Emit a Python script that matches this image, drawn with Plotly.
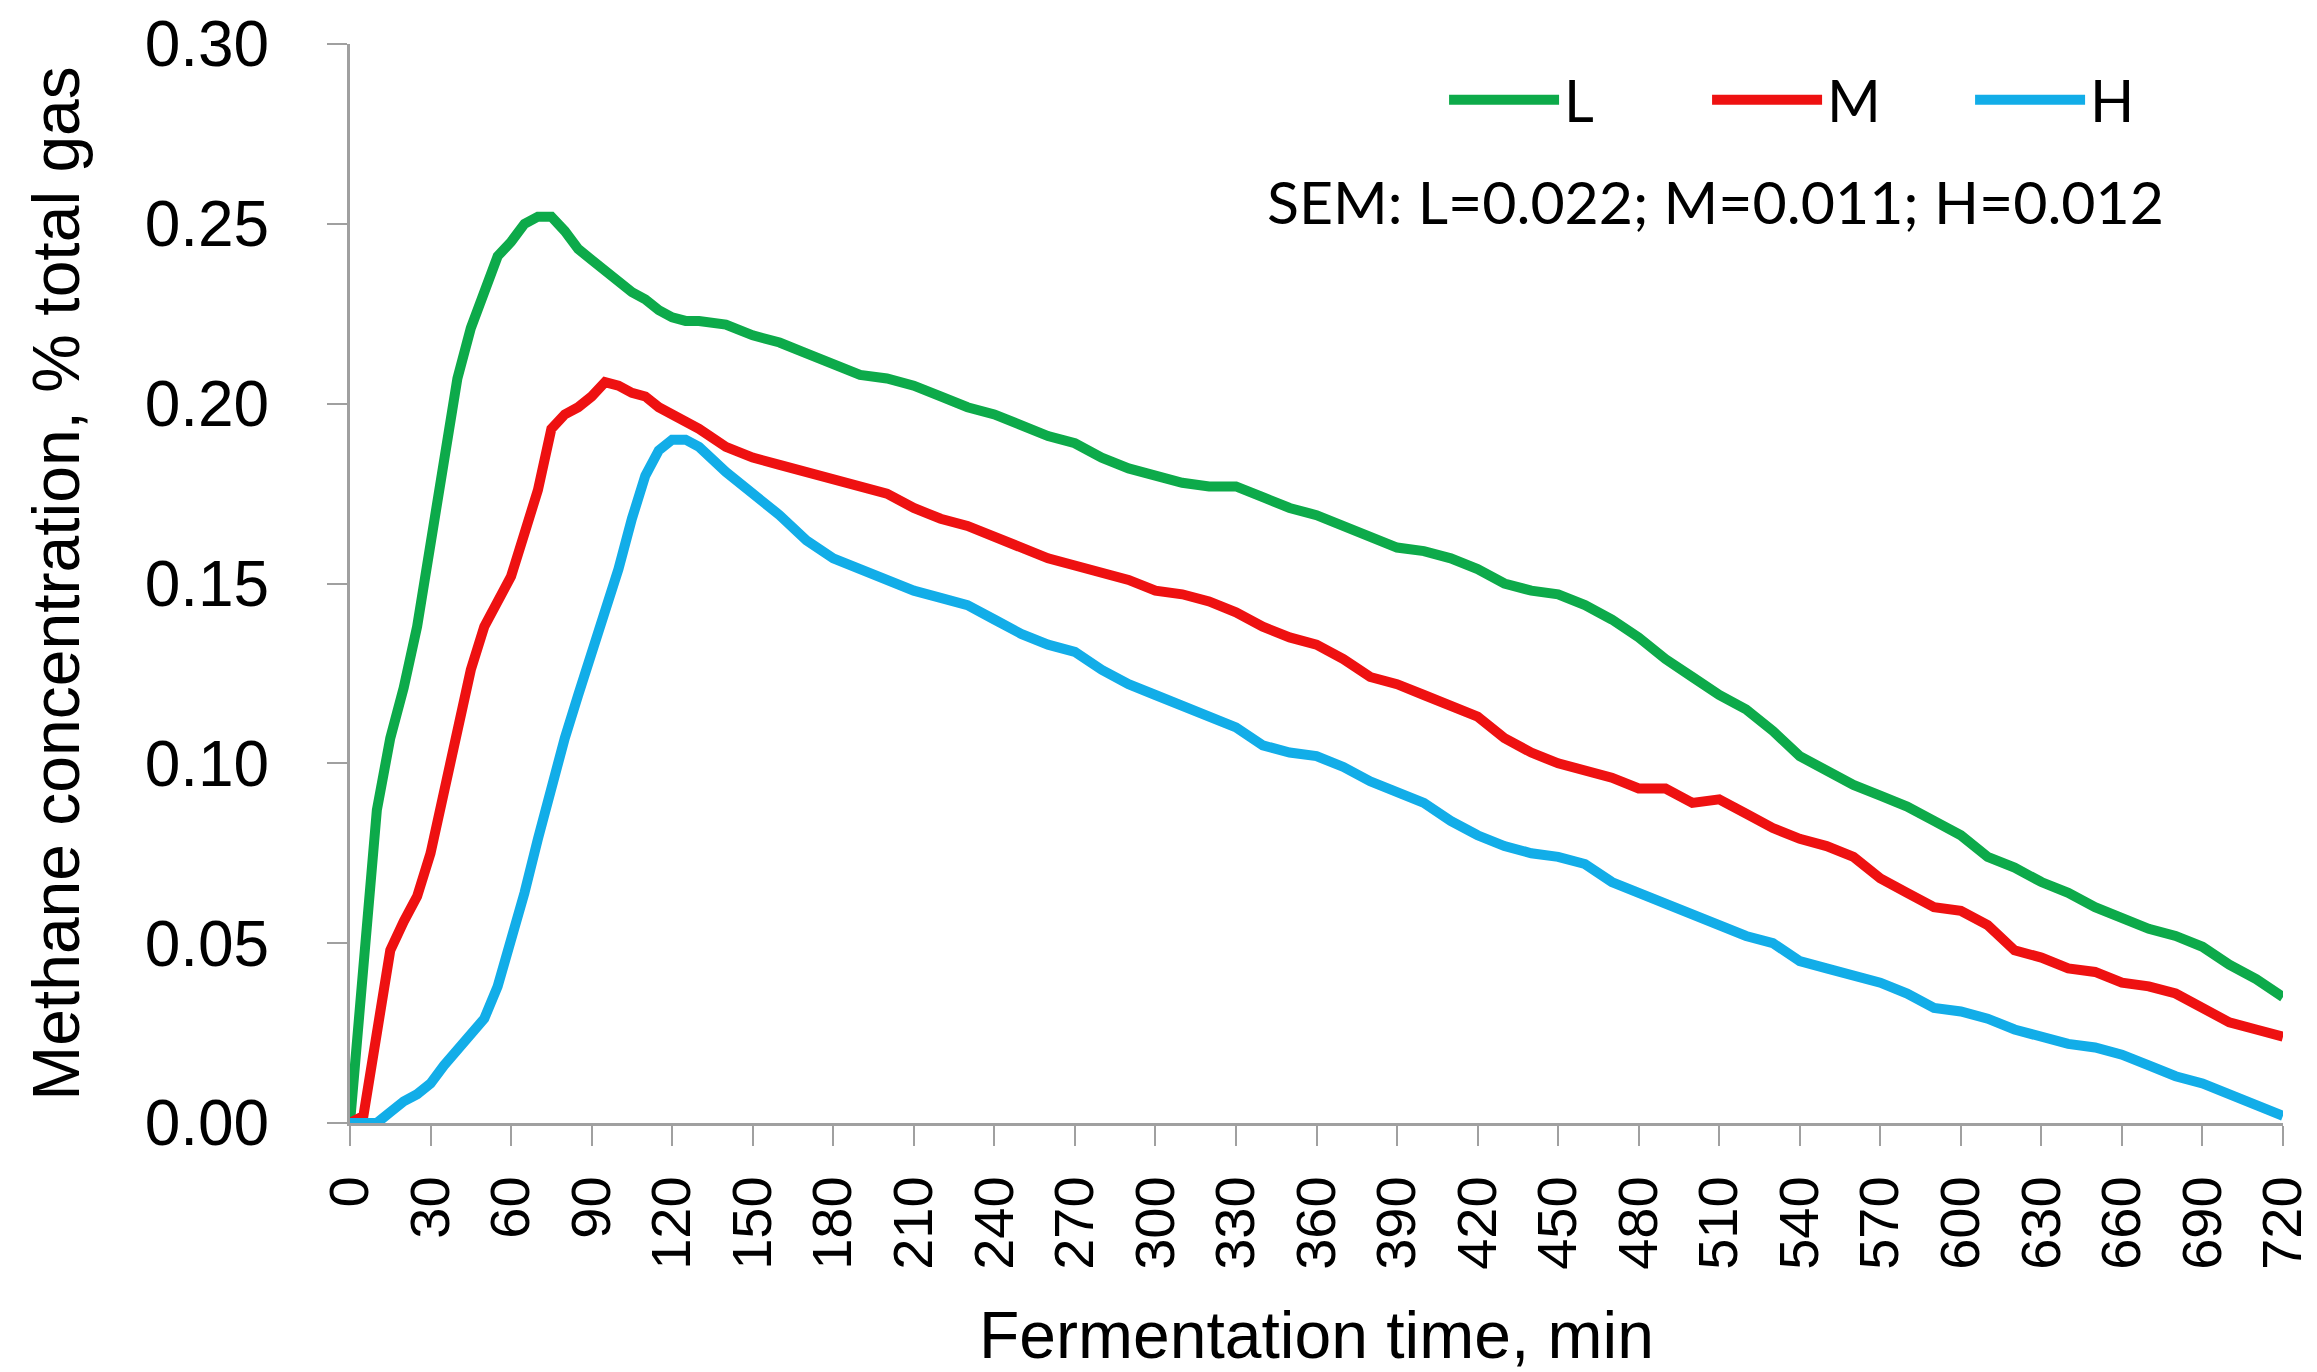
import plotly.graph_objects as go

# ---------------- data ----------------
time_min = [0, 5, 10, 15, 20, 25, 30, 35, 40, 45, 50, 55, 60, 65, 70, 75, 80, 85, 90, 95,
            100, 105, 110, 115, 120, 125, 130,
            140, 150, 160, 170, 180, 190, 200, 210, 220, 230, 240, 250, 260, 270, 280, 290,
            300, 310, 320, 330, 340, 350, 360, 370, 380, 390, 400, 410, 420, 430, 440, 450,
            460, 470, 480, 490, 500, 510, 520, 530, 540, 550, 560, 570, 580, 590, 600, 610,
            620, 630, 640, 650, 660, 670, 680, 690, 700, 710, 720]

L_values = [0.000, 0.040, 0.087, 0.107, 0.121, 0.138, 0.162, 0.186, 0.207, 0.221, 0.232, 0.241,
            0.245, 0.250, 0.252, 0.252, 0.248, 0.243, 0.240, 0.237, 0.234, 0.231, 0.229, 0.226,
            0.224, 0.223, 0.223,
            0.222, 0.219, 0.217, 0.214, 0.211, 0.208, 0.207, 0.205, 0.202, 0.199, 0.197, 0.194,
            0.191, 0.189, 0.185, 0.182, 0.180, 0.178, 0.177, 0.177, 0.174, 0.171, 0.169, 0.166,
            0.163, 0.160, 0.159, 0.157, 0.154, 0.150, 0.148, 0.147, 0.144, 0.140, 0.135, 0.129,
            0.124, 0.119, 0.115, 0.109, 0.102, 0.098, 0.094, 0.091, 0.088, 0.084, 0.080, 0.074,
            0.071, 0.067, 0.064, 0.060, 0.057, 0.054, 0.052, 0.049, 0.044, 0.040, 0.035]

M_values = [0.000, 0.002, 0.025, 0.048, 0.056, 0.063, 0.075, 0.093, 0.110, 0.126, 0.138, 0.145,
            0.152, 0.164, 0.176, 0.193, 0.197, 0.199, 0.202, 0.206, 0.205, 0.203, 0.202, 0.199,
            0.197, 0.195, 0.193,
            0.188, 0.185, 0.183, 0.181, 0.179, 0.177, 0.175, 0.171, 0.168, 0.166, 0.163, 0.160,
            0.157, 0.155, 0.153, 0.151, 0.148, 0.147, 0.145, 0.142, 0.138, 0.135, 0.133, 0.129,
            0.124, 0.122, 0.119, 0.116, 0.113, 0.107, 0.103, 0.100, 0.098, 0.096, 0.093, 0.093,
            0.089, 0.090, 0.086, 0.082, 0.079, 0.077, 0.074, 0.068, 0.064, 0.060, 0.059, 0.055,
            0.048, 0.046, 0.043, 0.042, 0.039, 0.038, 0.036, 0.032, 0.028, 0.026, 0.024]

H_values = [0.000, 0.000, 0.000, 0.003, 0.006, 0.008, 0.011, 0.016, 0.020, 0.024, 0.029, 0.038,
            0.050, 0.064, 0.079, 0.094, 0.107, 0.119, 0.130, 0.142, 0.154, 0.168, 0.180, 0.187,
            0.190, 0.190, 0.188,
            0.181, 0.175, 0.169, 0.162, 0.157, 0.154, 0.151, 0.148, 0.146, 0.144, 0.140, 0.136,
            0.133, 0.131, 0.126, 0.122, 0.119, 0.116, 0.113, 0.110, 0.105, 0.103, 0.102, 0.099,
            0.095, 0.092, 0.089, 0.084, 0.080, 0.077, 0.075, 0.074, 0.072, 0.067, 0.064, 0.061,
            0.058, 0.055, 0.052, 0.050, 0.045, 0.043, 0.041, 0.039, 0.036, 0.032, 0.031, 0.029,
            0.026, 0.024, 0.022, 0.021, 0.019, 0.016, 0.013, 0.011, 0.008, 0.005, 0.002]

series_names = ["L", "M", "H"]
series_colors = ["#0DAA4A", "#EE1111", "#12ADE8"]
x_ticks = list(range(0, 721, 30))
y_ticks = [0.00, 0.05, 0.10, 0.15, 0.20, 0.25, 0.30]
sem_text = "SEM: L=0.022; M=0.011; H=0.012"
x_title = "Fermentation time, min"
y_title = "Methane concentration, % total gas"

# ---------------- figure ----------------
fig = go.Figure()
for name, vals, col in zip(series_names, [L_values, M_values, H_values], series_colors):
    fig.add_trace(go.Scatter(x=time_min, y=vals, name=name, mode="lines",
                             line=dict(color=col, width=10)))

axis_font = dict(family="Liberation Sans, Arial, sans-serif", color="#000000")
axis_line = "#A0A0A0"

fig.update_layout(
    width=2317, height=1372,
    margin=dict(l=350, r=34, t=44, b=249),
    paper_bgcolor="white", plot_bgcolor="white",
    showlegend=True,
    legend=dict(orientation="h", x=0.566, y=0.948, xanchor="left", yanchor="middle",
                font=dict(family="Lato, sans-serif", size=58, color="#000000"),
                itemwidth=110, entrywidth=138, entrywidthmode="pixels",
                bgcolor="rgba(0,0,0,0)"),
    annotations=[dict(text=sem_text, xref="paper", yref="paper", x=0.4734, y=0.8536,
                      xanchor="left", yanchor="middle", showarrow=False,
                      font=dict(family="Lato, sans-serif", size=59, color="#000000"))],
)

fig.update_xaxes(
    range=[0, 720], tickmode="array", tickvals=x_ticks, ticktext=[str(v) for v in x_ticks],
    tickangle=-90, ticks="outside", ticklen=20, tickwidth=2, tickcolor=axis_line,
    showline=True, linecolor=axis_line, linewidth=3, showgrid=False, zeroline=False,
    tickfont=dict(size=56, **axis_font), ticklabelstandoff=8,
    title=dict(text=x_title, font=dict(size=66, **axis_font), standoff=44),
    automargin=False,
)
fig.update_yaxes(
    range=[0, 0.30], tickmode="array", tickvals=y_ticks,
    ticktext=[f"{v:.2f}" for v in y_ticks],
    ticks="outside", ticklen=20, tickwidth=2, tickcolor=axis_line,
    showline=True, linecolor=axis_line, linewidth=3, showgrid=False, zeroline=False,
    tickfont=dict(size=64, **axis_font), ticklabelstandoff=45,
    title=dict(text=y_title, font=dict(size=66, **axis_font), standoff=44),
    automargin=False,
)

fig.write_html("out.html")
